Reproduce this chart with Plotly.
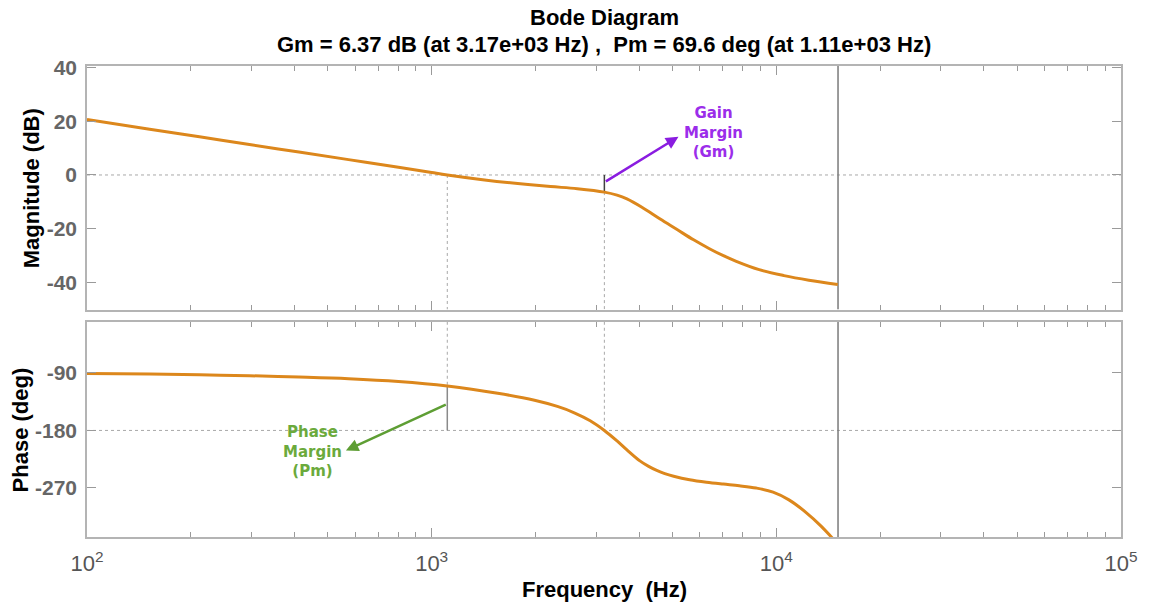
import math
import plotly.graph_objects as go

# ---------------- data ----------------
freq_mag = [100, 152, 212, 296, 412, 574, 801, 1000, 1110, 1424, 1777, 2212, 2645, 3170,
            3450, 3686, 4073, 4590, 5139, 5754, 6397, 7020, 7653, 8916, 10525, 12428, 15070]
mag_db = [20.6, 17.0, 14.2, 11.3, 8.5, 5.7, 2.85, 0.9, 0.0, -1.85, -3.2, -4.3, -5.1, -6.37,
          -7.5, -8.9, -12.0, -16.3, -20.2, -24.1, -27.4, -30.0, -32.1, -35.2, -37.4, -39.1, -40.7]

freq_phase = [100, 152, 212, 296, 412, 574, 801, 1110, 1555, 1988, 2316, 2593, 2884, 3170,
              3450, 3686, 4019, 4261, 4498, 4746, 5036, 5602, 6271, 7020, 7807, 8740, 9783,
              10880, 12180, 13460, 14860, 15100]
phase_deg = [-90.6, -91.6, -92.8, -94.3, -96.3, -98.9, -103.3, -110.4, -121.8, -132.7, -142.4,
             -152.3, -164.8, -180.0, -196.4, -210.5, -227.7, -236.3, -242.6, -247.6, -251.7,
             -257.2, -261.1, -264.1, -266.7, -270.3, -276.7, -288.8, -308.3, -329.5, -354.5,
             -359.0]

gm_db = 6.37
gm_freq = 3170
pm_deg = 69.6
pm_freq = 1110
nyquist_freq = 15100

mag_ticks = [-40, -20, 0, 20, 40]
mag_ticktext = ["-40", "-20", "0", "20", "40"]
phase_ticks = [-270, -180, -90]
phase_ticktext = ["-270", "-180", "-90"]
freq_ticks = [1e2, 1e3, 1e4, 1e5]
freq_ticktext = ["10<sup>2</sup>", "10<sup>3</sup>", "10<sup>4</sup>", "10<sup>5</sup>"]
minor_ticks = [m * 10 ** d for d in (2, 3, 4) for m in range(2, 10)]

title1 = "Bode Diagram"
title2 = "Gm = 6.37 dB (at 3.17e+03 Hz)\u00a0,\u00a0\u00a0Pm = 69.6 deg (at 1.11e+03 Hz)"

# ---------------- styling ----------------
MAG_RANGE = [-50, 40.5]
PH_RANGE = [-347, -9.7]
X_RANGE = [2, 5]
ORANGE = "#DC871C"
DOT = dict(color="#A8A8A8", width=1, dash="dot")
FRAME = "#B4B4B4"

fig = go.Figure()

def line(x, y, ln, ax="1"):
    fig.add_trace(go.Scatter(x=x, y=y, mode="lines", line=ln, hoverinfo="skip",
                             showlegend=False,
                             xaxis="x" if ax == "1" else "x2",
                             yaxis="y" if ax == "1" else "y2"))

# magnitude panel
line([freq_ticks[0], freq_ticks[-1]], [0, 0], DOT)
line([pm_freq, pm_freq], [0, MAG_RANGE[0]], DOT)
line([gm_freq, gm_freq], [-gm_db, MAG_RANGE[0]], DOT)
line([gm_freq, gm_freq], [0, -gm_db], dict(color="#404040", width=1.5))
line([nyquist_freq, nyquist_freq], MAG_RANGE, dict(color="#7A7A7A", width=1.5))
line(freq_mag, mag_db, dict(color=ORANGE, width=3, shape="spline", smoothing=1.0))

# phase panel
line([freq_ticks[0], freq_ticks[-1]], [-180, -180], DOT, "2")
line([pm_freq, pm_freq], [PH_RANGE[1], -180 + pm_deg], DOT, "2")
line([gm_freq, gm_freq], [PH_RANGE[1], -180], DOT, "2")
line([pm_freq, pm_freq], [-180, -180 + pm_deg], dict(color="#8A8A8A", width=1.5), "2")
line([nyquist_freq, nyquist_freq], PH_RANGE, dict(color="#7A7A7A", width=1.5), "2")
line(freq_phase, phase_deg, dict(color=ORANGE, width=3, shape="spline", smoothing=1.0), "2")

xcommon = dict(type="log", range=X_RANGE, showgrid=False, zeroline=False,
               showline=True, linecolor=FRAME, linewidth=1.5, mirror="allticks",
               ticks="inside", ticklen=9, tickcolor="#9A9A9A", tickwidth=1,
               tickvals=freq_ticks,
               minor=dict(tickvals=minor_ticks, ticks="inside", ticklen=5,
                          tickcolor="#9A9A9A", showgrid=False))
ycommon = dict(showgrid=False, zeroline=False, showline=True, linecolor=FRAME,
               linewidth=1.5, mirror="allticks", ticks="inside", ticklen=9,
               tickcolor="#9A9A9A", ticklabelstandoff=4,
               tickfont=dict(family="Liberation Sans, Arial", size=21,
                             color="#666666", weight="bold"))

fig.update_layout(
    width=1150, height=603,
    paper_bgcolor="white", plot_bgcolor="white",
    margin=dict(l=87, r=23, t=66, b=66),
    xaxis=dict(xcommon, anchor="y", showticklabels=False),
    xaxis2=dict(xcommon, anchor="y2", matches="x", ticktext=freq_ticktext,
                ticklabelstandoff=6,
                tickfont=dict(family="Liberation Sans, Arial", size=22, color="#555555")),
    yaxis=dict(ycommon, domain=[0.483, 1.0], range=MAG_RANGE,
               tickvals=mag_ticks, ticktext=mag_ticktext, anchor="x"),
    yaxis2=dict(ycommon, domain=[0.0, 0.457], range=PH_RANGE,
                tickvals=phase_ticks, ticktext=phase_ticktext, anchor="x2"),
)

ann = []
TFONT = dict(family="Liberation Sans, Arial", size=22, color="black", weight="bold")
ann.append(dict(text=title1, x=0.5, y=1.102, xref="paper", yref="paper",
                showarrow=False, xanchor="center", yanchor="middle", font=TFONT))
ann.append(dict(text=title2, x=0.5, y=1.0446, xref="paper", yref="paper",
                showarrow=False, xanchor="center", yanchor="middle", font=TFONT))
AFONT = dict(family="Liberation Sans, Arial", size=22, color="black", weight="bold")
ann.append(dict(text="Magnitude (dB)", x=-0.0529, y=0.741, xref="paper", yref="paper",
                showarrow=False, textangle=-90, xanchor="center", yanchor="middle",
                font=AFONT))
ann.append(dict(text="Phase (deg)", x=-0.0645, y=0.227, xref="paper", yref="paper",
                showarrow=False, textangle=-90, xanchor="center", yanchor="middle",
                font=AFONT))
ann.append(dict(text="Frequency\u00a0 (Hz)", x=0.5, y=-0.1125, xref="paper", yref="paper",
                showarrow=False, xanchor="center", yanchor="middle", font=AFONT))

# Gain margin arrow + label
ann.append(dict(x=math.log10(5200), y=14.2, xref="x", yref="y",
                ax=math.log10(gm_freq), ay=-2.7, axref="x", ayref="y",
                text="", showarrow=True, arrowhead=2, arrowsize=1, arrowwidth=2.5,
                arrowcolor="#8A1CE0", standoff=0, startstandoff=0))
ann.append(dict(x=math.log10(6560), y=15.7, xref="x", yref="y",
                text="Gain<br>Margin<br>(Gm)", showarrow=False,
                xanchor="center", yanchor="middle",
                font=dict(family="DejaVu Sans", size=15, color="#9B2DEA", weight="bold")))
# Phase margin arrow + label
ann.append(dict(x=math.log10(564), y=-211.6, xref="x2", yref="y2",
                ax=math.log10(pm_freq), ay=-138.5, axref="x2", ayref="y2",
                text="", showarrow=True, arrowhead=2, arrowsize=1, arrowwidth=2.5,
                arrowcolor="#5E9E34", standoff=0, startstandoff=0))
ann.append(dict(x=math.log10(450), y=-213.2, xref="x2", yref="y2",
                text="Phase<br>Margin<br>(Pm)", showarrow=False,
                xanchor="center", yanchor="middle",
                font=dict(family="DejaVu Sans", size=15, color="#6BAA3C", weight="bold")))

fig.update_layout(annotations=ann)
fig.write_html("out.html", config={"displayModeBar": False},
               post_script="document.body.style.margin='0px';"
                           "document.documentElement.style.overflow='hidden';")
